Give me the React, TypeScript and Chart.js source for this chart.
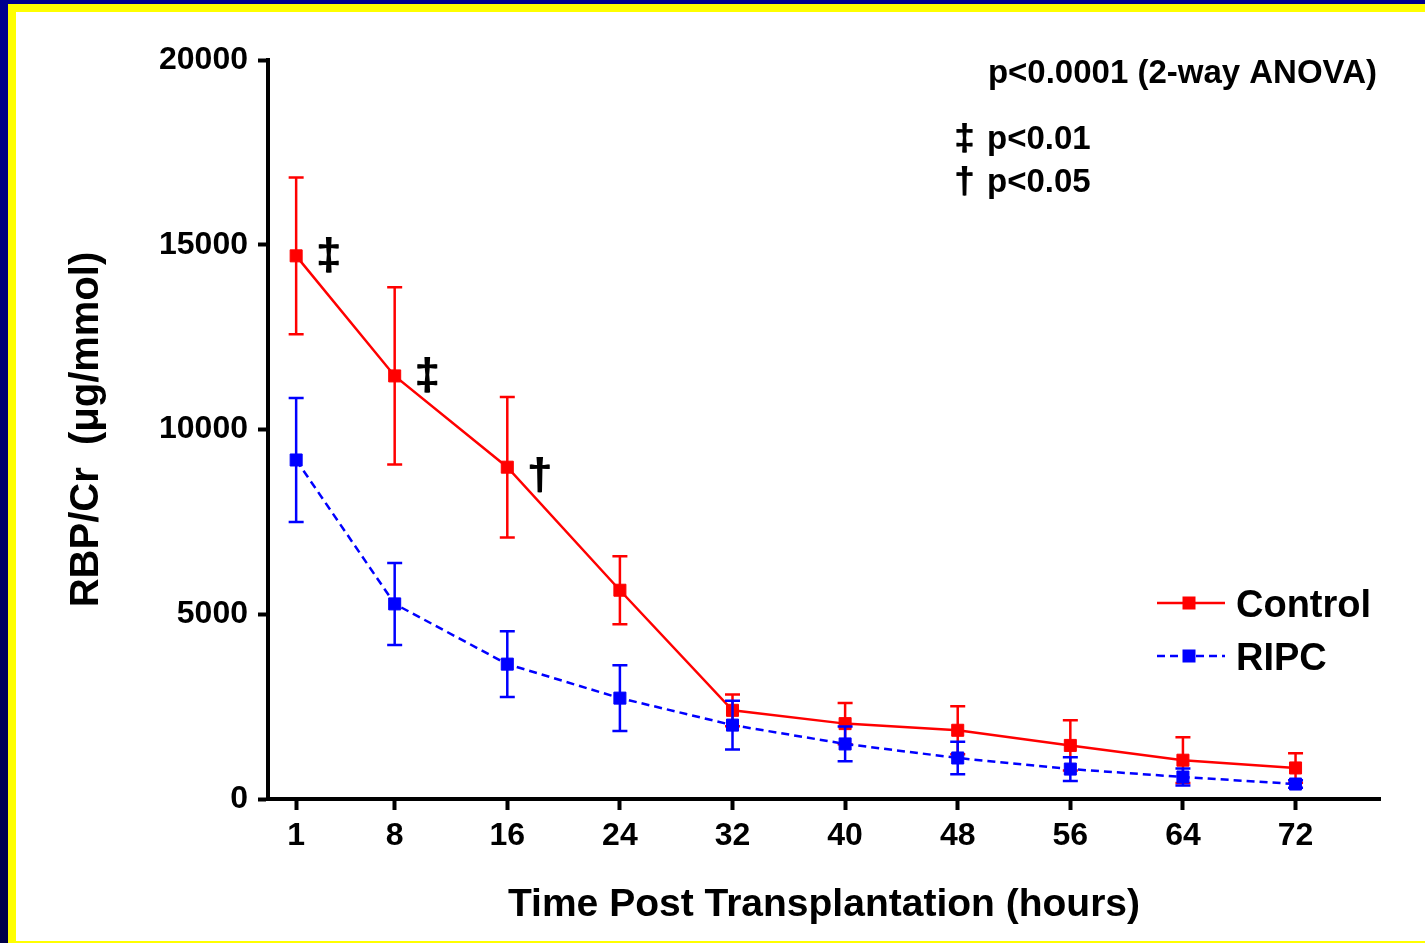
import React, { useEffect, useRef } from "react";
import { Chart, registerables } from "chart.js";

Chart.register(...registerables);

// ---------- data ----------
const hours = [1, 8, 16, 24, 32, 40, 48, 56, 64, 72];
const controlMean = [14700, 11450, 8980, 5650, 2400, 2040, 1860, 1450, 1050, 840];
const controlSem = [2120, 2400, 1900, 920, 430, 560, 650, 680, 620, 400];
const ripcMean = [9175, 5280, 3650, 2730, 2000, 1490, 1110, 810, 595, 405];
const ripcSem = [1680, 1110, 890, 890, 660, 470, 440, 320, 230, 100];
const xTickValues = [1, 8, 16, 24, 32, 40, 48, 56, 64, 72];
const yTickValues = [0, 5000, 10000, 15000, 20000];
const seriesNames = ["Control", "RIPC"];
const seriesColors = ["#FF0000", "#0000FF"];
const sigMarkIndex = [0, 1, 2];
const sigMarkGlyph = ["‡", "‡", "†"];
const anovaText = "p<0.0001 (2-way ANOVA)";
const sigLegendGlyph = ["‡", "†"];
const sigLegendText = ["p<0.01", "p<0.05"];
const xTitle = "Time Post Transplantation (hours)";
const yTitle = "RBP/Cr  (μg/mmol)";

const FONT = "'Liberation Sans', Arial, Helvetica, sans-serif";
const semBySeries = [controlSem, ripcSem];

const errorBarPlugin = {
  id: "errorBars",
  beforeDatasetDraw(chart: any, args: any) {
    const i = args.index;
    const sem = semBySeries[i];
    if (!sem) return;
    const ds = chart.data.datasets[i];
    const xs = chart.scales.x;
    const ys = chart.scales.y;
    const ctx = chart.ctx;
    ctx.save();
    ctx.strokeStyle = seriesColors[i];
    ctx.lineWidth = 2.5;
    ctx.setLineDash([]);
    ds.data.forEach((pt: any, k: number) => {
      const px = xs.getPixelForValue(pt.x);
      const yt = ys.getPixelForValue(pt.y + sem[k]);
      const yb = ys.getPixelForValue(Math.max(0, pt.y - sem[k]));
      const cap = 7.5;
      ctx.beginPath();
      ctx.moveTo(px, yt);
      ctx.lineTo(px, yb);
      ctx.moveTo(px - cap, yt);
      ctx.lineTo(px + cap, yt);
      ctx.moveTo(px - cap, yb);
      ctx.lineTo(px + cap, yb);
      ctx.stroke();
    });
    ctx.restore();
  },
};

const annotationPlugin = {
  id: "annotations",
  afterDraw(chart: any) {
    const ctx = chart.ctx;
    const xs = chart.scales.x;
    const ys = chart.scales.y;
    const area = chart.chartArea;
    ctx.save();
    ctx.fillStyle = "#000";
    // significance marks beside control points
    ctx.font = `bold 45px ${FONT}`;
    ctx.textAlign = "center";
    ctx.textBaseline = "alphabetic";
    sigMarkIndex.forEach((idx, j) => {
      const px = xs.getPixelForValue(hours[idx]) + 32;
      const dy = sigMarkGlyph[j] === "†" ? 9 : 0;
      const py = ys.getPixelForValue(controlMean[idx]) + dy + 13;
      ctx.fillText(sigMarkGlyph[j], px, py);
      ctx.fillText(sigMarkGlyph[j], px + 1, py);
    });

    // ANOVA text
    ctx.font = `bold 33px ${FONT}`;
    ctx.textAlign = "right";
    ctx.fillText(anovaText, area.right - 3, area.top + 23);

    // significance legend
    ctx.textAlign = "left";
    sigLegendGlyph.forEach((g, j) => {
      const by = area.top + 89 + j * 43;
      ctx.font = `bold 36px ${FONT}`;
      ctx.fillText(g, area.right - 426, by + 1);
      ctx.fillText(g, area.right - 425, by + 1);
      ctx.font = `bold 33px ${FONT}`;
      ctx.fillText(sigLegendText[j], area.right - 393, by);
    });

    // series legend
    const lx0 = area.right - 223;
    const lx1 = area.right - 155;
    const mx = area.right - 191;
    const rows = [603, 656];
    seriesNames.forEach((name, j) => {
      const y = rows[j];
      ctx.strokeStyle = seriesColors[j];
      ctx.lineWidth = 2.5;
      ctx.setLineDash(j === 1 ? [8, 5] : []);
      ctx.beginPath();
      ctx.moveTo(lx0, y);
      ctx.lineTo(lx1, y);
      ctx.stroke();
      ctx.setLineDash([]);
      ctx.fillStyle = seriesColors[j];
      ctx.fillRect(mx - 6.5, y - 6.5, 13, 13);
      ctx.fillStyle = "#000";
      ctx.font = `bold 38px ${FONT}`;
      ctx.textAlign = "left";
      ctx.textBaseline = "alphabetic";
      ctx.fillText(name, area.right - 144, y + 14);
    });
    ctx.restore();
  },
};

export default function App() {
  const ref = useRef<HTMLCanvasElement | null>(null);

  useEffect(() => {
    if (!ref.current) return;
    const tickFont = { family: FONT, size: 32, weight: "bold" as const };
    const chart = new Chart(ref.current, {
      type: "line",
      data: {
        datasets: [
          {
            label: seriesNames[0],
            data: hours.map((h, i) => ({ x: h, y: controlMean[i] })),
            borderColor: seriesColors[0],
            backgroundColor: seriesColors[0],
            borderWidth: 2.5,
            pointStyle: "rect",
            pointRadius: 8.5,
            pointBorderWidth: 1,
            pointBackgroundColor: seriesColors[0],
            pointBorderColor: seriesColors[0],
            tension: 0,
            fill: false,
            order: 1,
          },
          {
            label: seriesNames[1],
            data: hours.map((h, i) => ({ x: h, y: ripcMean[i] })),
            borderColor: seriesColors[1],
            backgroundColor: seriesColors[1],
            borderWidth: 2.5,
            borderDash: [8, 5],
            pointStyle: "rect",
            pointRadius: 8.5,
            pointBorderWidth: 1,
            pointBackgroundColor: seriesColors[1],
            pointBorderColor: seriesColors[1],
            tension: 0,
            fill: false,
            order: 0,
          },
        ],
      },
      options: {
        responsive: false,
        animation: false,
        devicePixelRatio: 1,
        layout: { padding: { top: 60, right: 45, left: 0, bottom: 0 } },
        plugins: {
          legend: { display: false },
          tooltip: { enabled: false },
        },
        scales: {
          x: {
            type: "linear",
            min: -1,
            max: 78,
            afterBuildTicks: (s: any) => {
              s.ticks = xTickValues.map((v) => ({ value: v }));
            },
            afterFit: (s: any) => {
              s.height = 144;
            },
            ticks: {
              font: tickFont,
              color: "#000",
              padding: 7,
              maxRotation: 0,
              autoSkip: false,
              callback: (v: any) => String(v),
            },
            grid: {
              drawOnChartArea: false,
              drawTicks: true,
              tickLength: 11,
              tickWidth: 4,
              tickColor: "#000",
              color: "#000",
            },
            border: { display: true, color: "#000", width: 4 },
            title: {
              display: true,
              text: xTitle,
              color: "#000",
              font: { family: FONT, size: 39, weight: "bold" },
              padding: { top: 0, bottom: 14 },
            },
          },
          y: {
            type: "linear",
            min: 0,
            max: 20000,
            afterBuildTicks: (s: any) => {
              s.ticks = yTickValues.map((v) => ({ value: v }));
            },
            afterFit: (s: any) => {
              s.width = 268;
            },
            ticks: {
              font: tickFont,
              color: "#000",
              padding: 10,
              callback: (v: any) => String(v),
            },
            grid: {
              drawOnChartArea: false,
              drawTicks: true,
              tickLength: 10,
              tickWidth: 4,
              tickColor: "#000",
              color: "#000",
            },
            border: { display: true, color: "#000", width: 4 },
            title: {
              display: true,
              text: yTitle,
              color: "#000",
              font: { family: FONT, size: 40, weight: "bold" },
              padding: { top: 63, bottom: 0 },
            },
          },
        },
      },
      plugins: [errorBarPlugin, annotationPlugin],
    });
    return () => chart.destroy();
  }, []);

  return (
    <div
      style={{
        position: "fixed",
        left: 0,
        top: 0,
        width: 1425,
        height: 943,
        background: "linear-gradient(#00008E, #000048)",
        overflow: "hidden",
      }}
    >
      <div
        style={{
          position: "absolute",
          left: 8,
          top: 4,
          right: 0,
          bottom: 0,
          background: "#FFFF00",
        }}
      >
        <div
          style={{
            position: "absolute",
            left: 8,
            top: 8,
            right: 0,
            bottom: 2,
            background: "#FFFFFF",
          }}
        />
      </div>
      <canvas
        ref={ref}
        width={1425}
        height={943}
        style={{ position: "absolute", left: 0, top: 0 }}
      />
    </div>
  );
}
